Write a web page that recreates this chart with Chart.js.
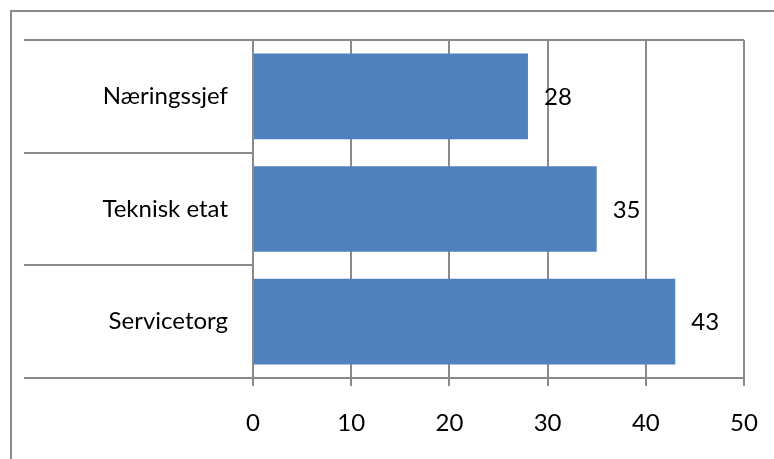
<!DOCTYPE html>
<html>
<head>
<meta charset="utf-8">
<script src="https://cdn.jsdelivr.net/npm/chart.js@4/dist/chart.umd.min.js"></script>
<style>
  html, body { margin: 0; padding: 0; background: #fff; }
  #wrap { position: relative; width: 774px; height: 459px; }
</style>
</head>
<body>
<div id="wrap"><canvas id="c" width="774" height="459"></canvas></div>
<script>
const categories = ['Næringssjef', 'Teknisk etat', 'Servicetorg'];
const values = [28, 35, 43];
const xTicks = [0, 10, 20, 30, 40, 50];

const FONT = 'Lato, "Open Sans", sans-serif';
const FONT_SIZE = 24;
const LINE = '#8a8a8a';
const BAR = '#4f81bd';

// Frame around the whole chart and the top edge of the plot area
const framePlugin = {
  id: 'frame',
  beforeDraw(chart) {
    const ctx = chart.ctx;
    ctx.save();
    ctx.fillStyle = '#fff';
    ctx.fillRect(0, 0, chart.width, chart.height);
    ctx.strokeStyle = LINE;
    ctx.lineWidth = 2;
    ctx.beginPath();
    ctx.moveTo(11, chart.height + 5);
    ctx.lineTo(11, 11);
    ctx.lineTo(chart.width + 5, 11);
    ctx.stroke();
    ctx.restore();
  },
  beforeDatasetsDraw(chart) {
    const a = chart.chartArea;
    const ctx = chart.ctx;
    ctx.save();
    ctx.strokeStyle = LINE;
    ctx.lineWidth = 2;
    ctx.beginPath();
    ctx.moveTo(a.left, a.top);
    ctx.lineTo(a.right, a.top);
    ctx.stroke();
    ctx.restore();
  }
};

// Value labels to the right of each bar
const valueLabels = {
  id: 'valueLabels',
  afterDatasetsDraw(chart) {
    const ctx = chart.ctx;
    const meta = chart.getDatasetMeta(0);
    const ds = chart.data.datasets[0];
    ctx.save();
    ctx.font = FONT_SIZE + 'px ' + FONT;
    ctx.fillStyle = '#000';
    ctx.textAlign = 'left';
    ctx.textBaseline = 'middle';
    meta.data.forEach((bar, i) => {
      ctx.fillText(String(ds.data[i]), bar.x + 16, bar.y + 1);
    });
    ctx.restore();
  }
};

new Chart(document.getElementById('c'), {
  type: 'bar',
  data: {
    labels: categories,
    datasets: [{
      data: values,
      backgroundColor: BAR,
      borderWidth: 0,
      barPercentage: 0.76,
      categoryPercentage: 1
    }]
  },
  options: {
    indexAxis: 'y',
    responsive: false,
    animation: false,
    events: [],
    layout: { padding: { top: 40, right: 30, left: 0, bottom: 0 } },
    plugins: { legend: { display: false }, tooltip: { enabled: false } },
    scales: {
      x: {
        min: 0,
        max: 50,
        afterBuildTicks(scale) { scale.ticks = xTicks.map(v => ({ value: v })); },
        afterFit(scale) {
          scale.height = 81;
          scale.paddingLeft = 0;
          scale.paddingRight = 0;
        },
        grid: {
          color: LINE,
          lineWidth: 2,
          tickLength: 8,
          tickColor: LINE,
          drawOnChartArea: true
        },
        border: { display: true, color: LINE, width: 2 },
        ticks: { color: '#000', font: { family: FONT, size: FONT_SIZE }, padding: 23, maxRotation: 0 }
      },
      y: {
        afterFit(scale) {
          scale.width = 253;
          scale.paddingTop = 0;
          scale.paddingBottom = 0;
        },
        grid: {
          offset: true,
          drawOnChartArea: false,
          color: LINE,
          lineWidth: 2,
          tickLength: 229
        },
        border: { display: true, color: LINE, width: 2 },
        ticks: { color: '#000', font: { family: FONT, size: FONT_SIZE }, padding: -204 }
      }
    }
  },
  plugins: [framePlugin, valueLabels]
});
</script>
</body>
</html>
